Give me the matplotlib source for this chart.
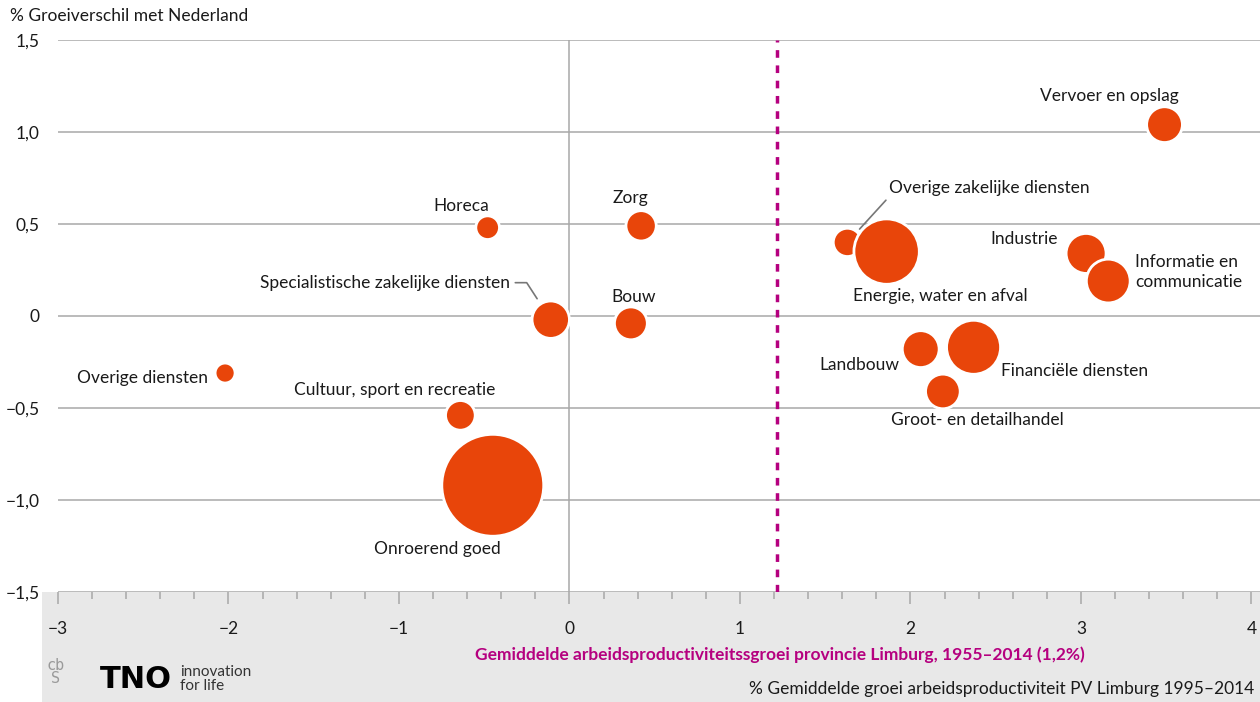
import matplotlib
matplotlib.use('Agg')
import matplotlib.pyplot as plt
from matplotlib.patches import Rectangle
from matplotlib.ticker import MultipleLocator, FuncFormatter

plt.rcParams['font.family'] = ['Lato', 'DejaVu Sans']

# sectoren: groei arbeidsproductiviteit PV Limburg (x), groeiverschil met NL (y), omvang (bubbel)
sectoren = ['Vervoer en opslag', 'Overige zakelijke diensten', 'Energie, water en afval',
            'Industrie', 'Informatie en\ncommunicatie', 'Landbouw', 'Financiële diensten',
            'Groot- en detailhandel', 'Horeca', 'Zorg', 'Specialistische zakelijke diensten',
            'Bouw', 'Overige diensten', 'Cultuur, sport en recreatie', 'Onroerend goed']
groei = [3.49, 1.63, 1.86, 3.03, 3.16, 2.06, 2.37, 2.19, -0.48, 0.42, -0.11, 0.36, -2.02, -0.64, -0.45]
verschil = [1.04, 0.40, 0.35, 0.34, 0.19, -0.18, -0.17, -0.41, 0.48, 0.49, -0.02, -0.04, -0.31, -0.54, -0.92]
omvang = [32, 20, 107, 40, 48, 34, 73, 30, 14, 23, 35, 27, 10, 22, 260]
gemiddelde_limburg = 1.22

# label plaatsing (offset in pixels, uitlijning)
label_pos = [(-55, 29, 'center'), (42, 54, 'left'), (54, -44, 'center'), (-28, 14, 'right'),
             (27, 9, 'left'), (-21, -16, 'right'), (27, -24, 'left'), (34, -29, 'center'),
             (-26, 22, 'center'), (-11, 28, 'center'), (-41, 37, 'right'), (3, 26, 'center'),
             (-17, -5, 'right'), (-66, 25, 'center'), (-55, -64, 'center')]

oranje = '#e8450a'
paars = '#b5007f'
grijs = '#a8a8a8'
tekst = '#1a1a1a'

fig = plt.figure(figsize=(12.6, 7.02), dpi=100)
fig.patches.append(Rectangle((42 / 1260, 0), 1 - 42 / 1260, 110 / 702, transform=fig.transFigure,
                             facecolor='#e8e8e8', edgecolor='none', zorder=-5))
ax = fig.add_axes([58 / 1260, 110 / 702, 1 - 58 / 1260, 552 / 702])
ax.patch.set_alpha(0)

ax.set_xlim(-3, 4.05)
ax.set_ylim(-1.5, 1.5)
for s in ax.spines.values():
    s.set_visible(False)

for yv in [-1.5, -1.0, -0.5, 0, 0.5, 1.0, 1.5]:
    ax.axhline(yv, color=grijs, lw=1.1, zorder=1)
ax.axvline(0, color=grijs, lw=1.1, zorder=1)
ax.axvline(gemiddelde_limburg, color=paars, lw=2.5, ls=(0, (2.2, 2.2)), zorder=2)

ax.scatter(groei, verschil, s=[o * 20.7 for o in omvang], color=oranje,
           edgecolors='white', linewidths=2, zorder=3)

for i, naam in enumerate(sectoren):
    dx, dy, ha = label_pos[i]
    kw = {}
    if naam.startswith('Specialistische'):
        kw['arrowprops'] = dict(arrowstyle='-', color='#777777', lw=1.2, relpos=(1, 0.5),
                                shrinkA=2, shrinkB=18,
                                connectionstyle='angle,angleA=0,angleB=123,rad=0')
    if naam.startswith('Overige zakelijke'):
        kw['arrowprops'] = dict(arrowstyle='-', color='#777777', lw=1.2, relpos=(0, 0),
                                shrinkA=1, shrinkB=13)
    ax.annotate(naam, (groei[i], verschil[i]), xytext=(dx, dy), textcoords='offset pixels',
                ha=ha, va='center', multialignment='left', fontsize=12.5, color=tekst,
                linespacing=1.25, zorder=4, **kw)

ax.xaxis.set_major_locator(MultipleLocator(1))
ax.xaxis.set_minor_locator(MultipleLocator(0.2))
ax.yaxis.set_major_locator(MultipleLocator(0.5))
ax.yaxis.set_major_formatter(FuncFormatter(
    lambda v, p: ('%.1f' % v).replace('.', ',').replace('-', '\u2212') if v != 0 else '0'))
ax.xaxis.set_major_formatter(FuncFormatter(lambda v, p: ('%d' % v).replace('-', '\u2212')))
ax.tick_params(axis='x', which='major', length=8.6, width=1.1, color=grijs, pad=12,
               labelsize=12.5, labelcolor=tekst)
ax.tick_params(axis='x', which='minor', length=5, width=1.1, color=grijs)
ax.tick_params(axis='y', length=0, pad=13, labelsize=12.5, labelcolor=tekst)

fig.text(10 / 1260, 1 - 16 / 702, '% Groeiverschil met Nederland', fontsize=12.5,
         color=tekst, va='center', ha='left')
fig.text(780 / 1260, 1 - 655 / 702,
         'Gemiddelde arbeidsproductiviteitssgroei provincie Limburg, 1955\u20132014 (1,2%)',
         fontsize=12.5, color=paars, fontweight='bold', ha='center', va='center')
fig.text(1254 / 1260, 1 - 689 / 702,
         '% Gemiddelde groei arbeidsproductiviteit PV Limburg 1995\u20132014',
         fontsize=12.5, color=tekst, ha='right', va='center')

# logo's
fig.text(56 / 1260, 1 - 672 / 702, 'cb\nS', fontsize=11, color='#9a9a9a', ha='center',
         va='center', linespacing=0.9, family='DejaVu Sans Mono')
fig.text(100 / 1260, 1 - 679 / 702, 'TNO', fontsize=22, fontweight='heavy', color='black',
         ha='left', va='center', family='DejaVu Sans')
fig.text(180 / 1260, 1 - 679 / 702, 'innovation\nfor life', fontsize=11, color='#333333',
         ha='left', va='center', linespacing=1.0)

fig.savefig('out.png', dpi=100)
